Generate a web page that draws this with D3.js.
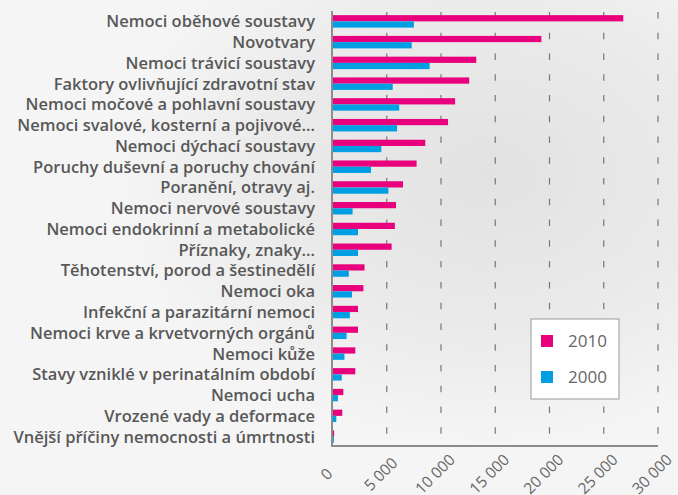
<!DOCTYPE html>
<html>
<head>
<meta charset="utf-8">
<script src="https://cdn.jsdelivr.net/npm/d3@7"></script>
<style>
  body { margin: 0; background: #f3f3f3; }
  svg { display: block; }
</style>
</head>
<body>
<div id="chart"></div>
<script>
// categories, top to bottom
const categories = [
  "Nemoci oběhové soustavy",
  "Novotvary",
  "Nemoci trávicí soustavy",
  "Faktory ovlivňující zdravotní stav",
  "Nemoci močové a pohlavní soustavy",
  "Nemoci svalové, kosterní a pojivové…",
  "Nemoci dýchací soustavy",
  "Poruchy duševní a poruchy chování",
  "Poranění, otravy aj.",
  "Nemoci nervové soustavy",
  "Nemoci endokrinní a metabolické",
  "Příznaky, znaky…",
  "Těhotenství, porod a šestinedělí",
  "Nemoci oka",
  "Infekční a parazitární nemoci",
  "Nemoci krve a krvetvorných orgánů",
  "Nemoci kůže",
  "Stavy vzniklé v perinatálním období",
  "Nemoci ucha",
  "Vrozené vady a deformace",
  "Vnější příčiny nemocnosti a úmrtnosti"
];
const values2010 = [26800, 19250, 13250, 12600, 11300, 10650, 8550, 7750, 6500, 5850, 5750, 5450, 2950, 2850, 2350, 2350, 2100, 2100, 1000, 900, 150];
const values2000 = [7500, 7300, 8950, 5550, 6150, 5950, 4500, 3550, 5150, 1850, 2350, 2350, 1500, 1800, 1600, 1300, 1100, 850, 500, 350, 130];
const seriesNames = ["2010", "2000"];
const xTicks = [0, 5000, 10000, 15000, 20000, 25000, 30000];

const width = 678, height = 495;
const colors = {"2010": "#e8007d", "2000": "#009fe3"};

const svg = d3.select("#chart").append("svg")
  .attr("width", width)
  .attr("height", height);

// background with soft gray blotch
const defs = svg.append("defs");
const bg = defs.append("radialGradient").attr("id", "bgGrad")
  .attr("cx", "0.72").attr("cy", "0.35").attr("r", "0.55");
bg.append("stop").attr("offset", "0%").attr("stop-color", "#e2e2e2");
bg.append("stop").attr("offset", "60%").attr("stop-color", "#ebebeb");
bg.append("stop").attr("offset", "100%").attr("stop-color", "#f5f5f5");
svg.append("rect").attr("width", width).attr("height", height).attr("fill", "url(#bgGrad)");

const data = categories.map((c, i) => ({cat: c, "2010": values2010[i], "2000": values2000[i]}));

const x = d3.scaleLinear().domain([0, 30000]).range([332.5, 658]);
const y = d3.scaleBand().domain(categories).range([11, 447]).paddingInner(0.4).paddingOuter(0.2);
const ySub = d3.scaleBand().domain(seriesNames).range([0, y.bandwidth()]);

// dashed gridlines
svg.append("g").selectAll("line")
  .data(xTicks.slice(1))
  .enter().append("line")
  .attr("x1", d => x(d)).attr("x2", d => x(d))
  .attr("y1", 12).attr("y2", 446)
  .attr("stroke", "#777")
  .attr("stroke-width", 1.2)
  .attr("stroke-dasharray", "6.5,14.26");

// bars
const groups = svg.append("g").selectAll("g")
  .data(data)
  .enter().append("g")
  .attr("transform", d => `translate(0,${y(d.cat)})`);

groups.selectAll("rect")
  .data(d => seriesNames.map(s => ({key: s, value: d[s]})))
  .enter().append("rect")
  .attr("x", x(0))
  .attr("y", d => ySub(d.key))
  .attr("width", d => x(d.value) - x(0))
  .attr("height", ySub.bandwidth())
  .attr("fill", d => colors[d.key]);

// axis lines
svg.append("line").attr("x1", 332).attr("x2", 332).attr("y1", 11).attr("y2", 447)
  .attr("stroke", "#8c8c8c").attr("stroke-width", 2);
svg.append("line").attr("x1", 331).attr("x2", 658).attr("y1", 446).attr("y2", 446)
  .attr("stroke", "#8c8c8c").attr("stroke-width", 2);

// category labels
svg.append("g").selectAll("text")
  .data(categories)
  .enter().append("text")
  .attr("x", 315)
  .attr("y", d => y(d) + y.bandwidth() / 2)
  .attr("dy", "0.36em")
  .attr("text-anchor", "end")
  .style("font-family", "'Open Sans', sans-serif")
  .style("font-weight", 600)
  .style("font-size", "16.5px")
  .style("fill", "#585858")
  .text(d => d);

// rotated x tick labels
svg.append("g").selectAll("text")
  .data(xTicks)
  .enter().append("text")
  .attr("transform", d => `translate(${x(d) - 6},474) rotate(-45)`)
  .attr("text-anchor", "middle")
  .attr("dy", "0.35em")
  .style("font-family", "'Open Sans', sans-serif")
  .style("font-size", "15.5px")
  .style("fill", "#666")
  .text(d => d === 0 ? "0" : d3.format(",")(d).replace(/,/g, " "));

// legend
const legend = svg.append("g").attr("transform", "translate(531,319)");
legend.append("rect").attr("width", 88).attr("height", 80)
  .attr("fill", "#fff").attr("stroke", "#999").attr("stroke-width", 1);
seriesNames.forEach((s, i) => {
  legend.append("rect")
    .attr("x", 10).attr("y", 16 + i * 36)
    .attr("width", 12).attr("height", 12)
    .attr("fill", colors[s]);
  legend.append("text")
    .attr("x", 37).attr("y", 22 + i * 36)
    .attr("dy", "0.35em")
    .style("font-family", "'Open Sans', sans-serif")
    .style("font-size", "17px")
    .style("fill", "#666")
    .text(s);
});
</script>
</body>
</html>
